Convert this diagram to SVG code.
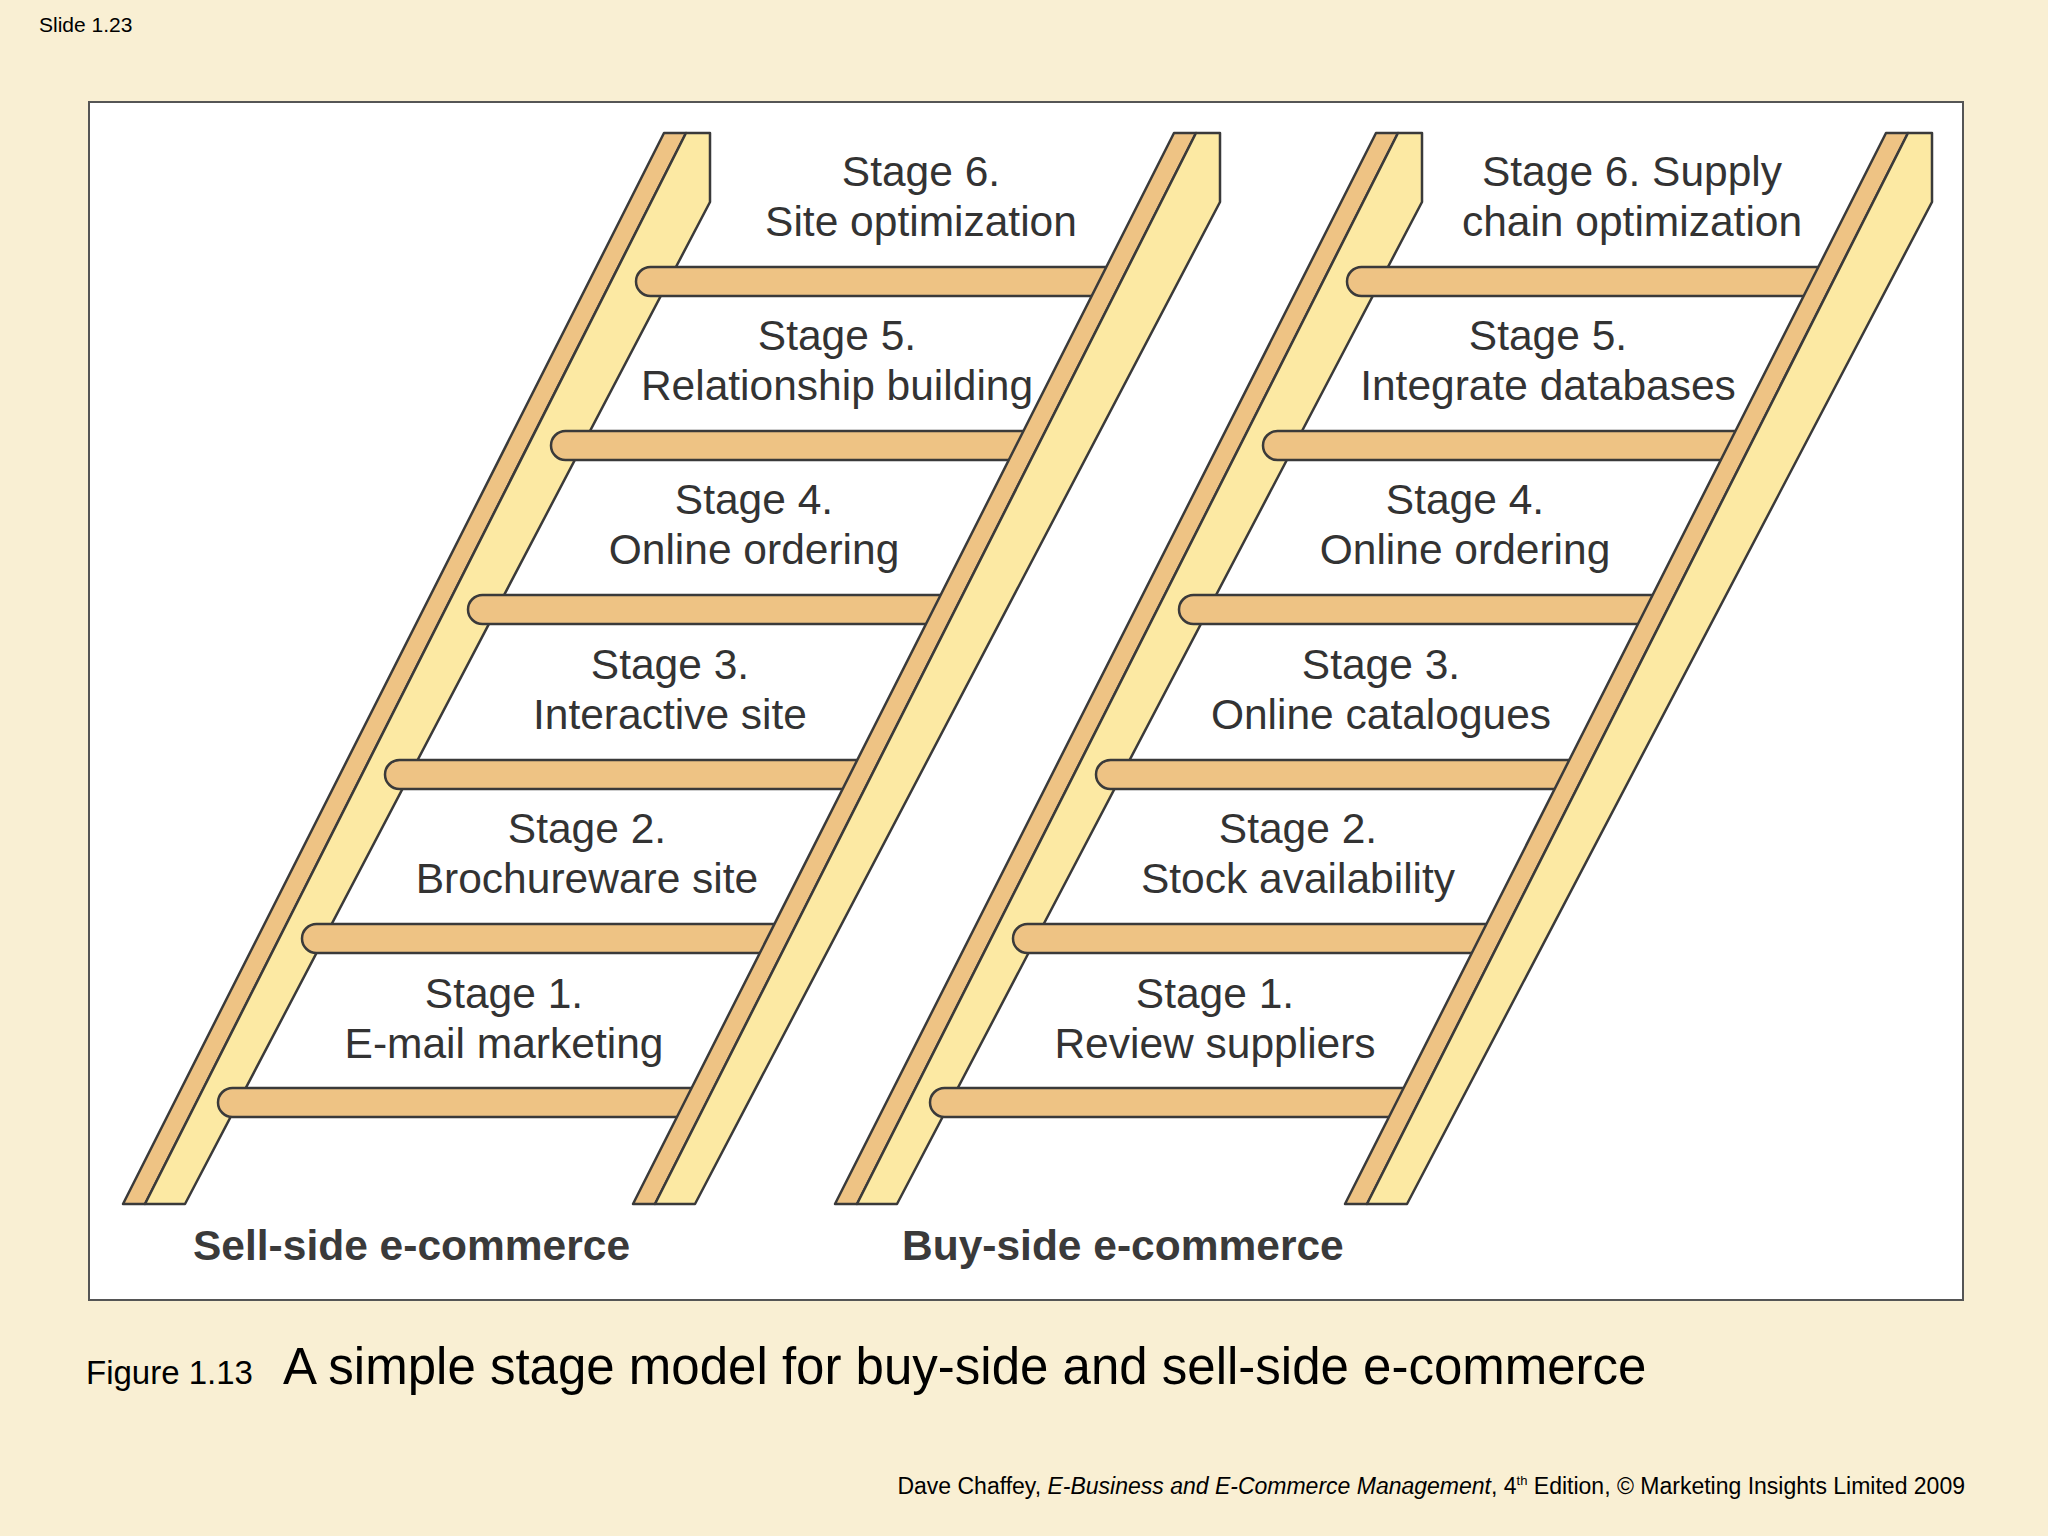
<svg xmlns="http://www.w3.org/2000/svg" width="2048" height="1536" viewBox="0 0 2048 1536">
<style>
.o{fill:#EEC384;stroke:#3a3a3a;stroke-width:2.5;stroke-linejoin:round}
.y{fill:#FCE9A3;stroke:#3a3a3a;stroke-width:2.5;stroke-linejoin:round}
.r{fill:#EEC384;stroke:#3a3a3a;stroke-width:2.5}
.t{font-family:"Liberation Sans",Arial,sans-serif;font-size:42.5px;fill:#333;text-anchor:middle}
.b{font-family:"Liberation Sans",Arial,sans-serif;font-size:42.5px;font-weight:bold;fill:#3a3a3a}
</style>
<defs>
<g id="rail">
<polygon class="o" points="0,0 22,0 -519,1071 -541,1071"/>
<polygon class="y" points="22,0 46,0 46,69 -479,1071 -519,1071"/>
</g>
</defs>
<rect width="2048" height="1536" fill="#F9EFD3"/>
<text x="39" y="32" font-family="Liberation Sans,Arial,sans-serif" font-size="21" fill="#000">Slide 1.23</text>
<rect x="89" y="102" width="1874" height="1198" fill="#fff" stroke="#555" stroke-width="2"/>

<g id="sell-ladder">
<use href="#rail" x="664" y="133"/>
<rect class="r" x="636" y="267" width="500" height="29" rx="14.5"/>
<rect class="r" x="551" y="431" width="500" height="29" rx="14.5"/>
<rect class="r" x="468" y="595" width="500" height="29" rx="14.5"/>
<rect class="r" x="385" y="760" width="500" height="29" rx="14.5"/>
<rect class="r" x="302" y="924" width="500" height="29" rx="14.5"/>
<rect class="r" x="218" y="1088" width="500" height="29" rx="14.5"/>
<use href="#rail" x="1174" y="133"/>
</g>
<g id="buy-ladder">
<use href="#rail" x="1376" y="133"/>
<rect class="r" x="1347" y="267" width="500" height="29" rx="14.5"/>
<rect class="r" x="1263" y="431" width="500" height="29" rx="14.5"/>
<rect class="r" x="1179" y="595" width="500" height="29" rx="14.5"/>
<rect class="r" x="1096" y="760" width="500" height="29" rx="14.5"/>
<rect class="r" x="1013" y="924" width="500" height="29" rx="14.5"/>
<rect class="r" x="930" y="1088" width="500" height="29" rx="14.5"/>
<use href="#rail" x="1886" y="133"/>
</g>

<g id="sell-stages">
<text class="t" x="921" y="186">Stage 6.<tspan x="921" dy="50">Site optimization</tspan></text>
<text class="t" x="837" y="350">Stage 5.<tspan x="837" dy="50">Relationship building</tspan></text>
<text class="t" x="754" y="514">Stage 4.<tspan x="754" dy="50">Online ordering</tspan></text>
<text class="t" x="670" y="679">Stage 3.<tspan x="670" dy="50">Interactive site</tspan></text>
<text class="t" x="587" y="843">Stage 2.<tspan x="587" dy="50">Brochureware site</tspan></text>
<text class="t" x="504" y="1008">Stage 1.<tspan x="504" dy="50">E-mail marketing</tspan></text>
</g>
<g id="buy-stages">
<text class="t" x="1632" y="186">Stage 6. Supply<tspan x="1632" dy="50">chain optimization</tspan></text>
<text class="t" x="1548" y="350">Stage 5.<tspan x="1548" dy="50">Integrate databases</tspan></text>
<text class="t" x="1465" y="514">Stage 4.<tspan x="1465" dy="50">Online ordering</tspan></text>
<text class="t" x="1381" y="679">Stage 3.<tspan x="1381" dy="50">Online catalogues</tspan></text>
<text class="t" x="1298" y="843">Stage 2.<tspan x="1298" dy="50">Stock availability</tspan></text>
<text class="t" x="1215" y="1008">Stage 1.<tspan x="1215" dy="50">Review suppliers</tspan></text>
</g>
<text class="b" x="193" y="1260">Sell-side e-commerce</text>
<text class="b" x="902" y="1260">Buy-side e-commerce</text>

<text x="86" y="1384" font-family="Liberation Sans,Arial,sans-serif" font-size="33" fill="#000">Figure 1.13</text>
<text x="283" y="1384" font-family="Liberation Sans,Arial,sans-serif" font-size="51" fill="#000">A simple stage model for buy-side and sell-side e-commerce</text>
<text x="1965" y="1494" text-anchor="end" font-family="Liberation Sans,Arial,sans-serif" font-size="23" fill="#000">Dave Chaffey, <tspan font-style="italic">E-Business and E-Commerce Management</tspan>, 4<tspan font-size="13" dy="-9">th</tspan><tspan dy="9"> Edition, © Marketing Insights Limited 2009</tspan></text>
</svg>
